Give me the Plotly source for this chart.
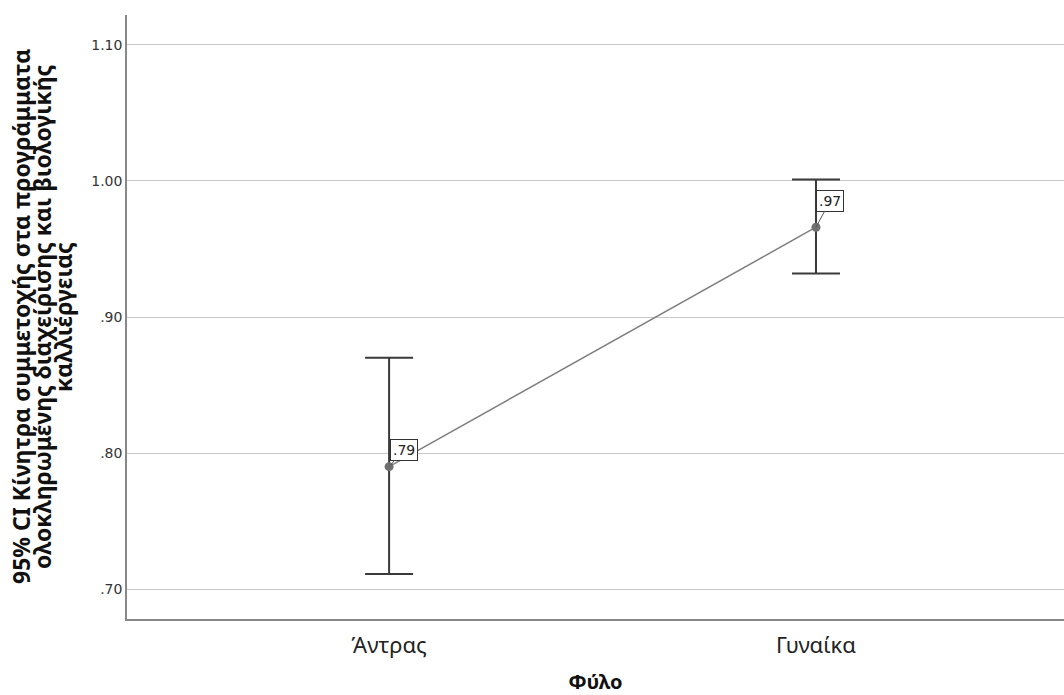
import plotly.graph_objects as go

categories = ["Άντρας", "Γυναίκα"]
means = [0.790, 0.966]
ci_upper = [0.870, 1.001]
ci_lower = [0.711, 0.932]
mean_labels = [".79", ".97"]
y_ticks = [0.70, 0.80, 0.90, 1.00, 1.10]
y_tick_text = [".70", ".80", ".90", "1.00", "1.10"]
y_title_lines = [
    "95% CI Κίνητρα συμμετοχής στα προγράμματα",
    "ολοκληρωμένης διαχείρισης και βιολογικής",
    "καλλιέργειας",
]
x_title = "Φύλο"

x_pos = list(range(len(categories)))
err_plus = [u - m for u, m in zip(ci_upper, means)]
err_minus = [m - l for m, l in zip(means, ci_lower)]

fig = go.Figure()
fig.add_trace(go.Scatter(
    x=x_pos, y=means, mode="markers",
    marker=dict(size=1, color="rgba(0,0,0,0)"),
    error_y=dict(type="data", symmetric=False, array=err_plus, arrayminus=err_minus,
                 color="#3a3a3a", thickness=2, width=24),
    showlegend=False, hoverinfo="skip",
))
fig.add_trace(go.Scatter(
    x=x_pos, y=means, mode="lines+markers",
    line=dict(color="#7f7f7f", width=1.5),
    marker=dict(size=9, color="#707070"),
    showlegend=False,
))

offsets = [(15, -17), (14, -26)]
for xi, m, lab, (ax, ay) in zip(x_pos, means, mean_labels, offsets):
    fig.add_annotation(
        x=xi, y=m, text=lab, showarrow=True, arrowhead=0, arrowwidth=1,
        arrowcolor="#555555", ax=ax, ay=ay,
        font=dict(family="DejaVu Sans", size=14, color="#222222"),
        bordercolor="#333333", borderwidth=1, borderpad=2, bgcolor="white",
    )

# y-axis title as three rotated lines
plot_left, plot_w = 127, 937
for line, px in zip(y_title_lines, [21, 42, 63]):
    fig.add_annotation(
        xref="paper", yref="paper", x=(px - plot_left) / plot_w, y=0.5,
        xanchor="center", yanchor="middle", textangle=-90, showarrow=False,
        text="<b>" + line + "</b>",
        font=dict(family="Noto Sans", size=23, color="#111111"),
    )

fig.update_layout(
    width=1064, height=695,
    margin=dict(l=127, r=0, t=15, b=76),
    plot_bgcolor="white", paper_bgcolor="white",
    xaxis=dict(
        range=[-0.614, 1.581],
        tickmode="array", tickvals=x_pos, ticktext=categories,
        showgrid=False, zeroline=False,
        showline=True, linecolor="#888888", linewidth=1.5,
        ticks="outside", ticklen=6, tickcolor="rgba(0,0,0,0)",
        tickfont=dict(family="Noto Sans", size=22, color="#222222"),
        title=dict(text="<b>" + x_title + "</b>", font=dict(family="Noto Sans", size=20, color="#111111"), standoff=20),
        automargin=False,
    ),
    yaxis=dict(
        range=[0.678, 1.122],
        tickmode="array", tickvals=y_ticks, ticktext=y_tick_text,
        showgrid=True, gridcolor="#c8c8c8", gridwidth=1, zeroline=False,
        showline=True, linecolor="#888888", linewidth=1.5,
        ticks="", ticklen=0,
        tickfont=dict(family="DejaVu Sans", size=14, color="#333333"),
        automargin=False,
    ),
)

fig.write_html("out.html")
